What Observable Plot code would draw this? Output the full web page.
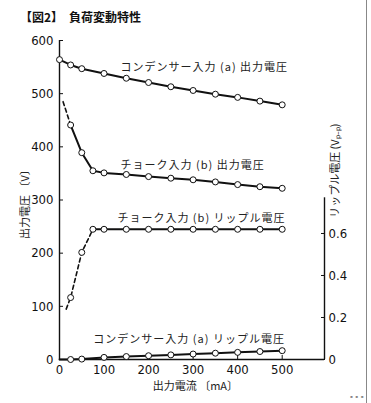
<!DOCTYPE html>
<html><head><meta charset="utf-8">
<script src="https://cdn.jsdelivr.net/npm/d3@7"></script>
<script src="https://cdn.jsdelivr.net/npm/@observablehq/plot@0.6"></script>
<style>
body{margin:0;background:#fff;}
#wrap{position:relative;width:371px;height:403px;overflow:hidden;background:#fff;}
#title{height:30px;box-sizing:border-box;padding:9px 0 0 20px;font:bold 12px/16px "Noto Sans CJK JP",sans-serif;color:#111;white-space:pre;}
.lbl text{letter-spacing:1px;}
#edge{position:absolute;left:366px;top:0;width:1px;height:403px;background:#888;}
#crumb{position:absolute;left:350px;top:393px;font:bold 7px "DejaVu Sans";color:#222;}
</style></head><body>
<div id="wrap"><div id="title">【図2】　負荷変動特性</div><div id="chart"></div><div id="edge"></div><div id="crumb">- - -</div></div>
<script>
// ---- data (x: output current mA, y: output voltage V / ripple Vp-p) ----
const condOutI  = [0,25,50,100,150,200,250,300,350,400,450,500];
const condOutV  = [564,554,547,538,529,521,513,506,499,493,486,479];

const chokeOutI = [8,25,50,75,100,150,200,250,300,350,400,450,500];
const chokeOutV = [485,441,389,355,351,348,344,341,338,334,329,325,322];
const chokeOutDashTo = 25;

const chokeRipI = [15,25,50,75,100,150,200,250,300,350,400,450,500];
const chokeRipV = [0.24,0.295,0.51,0.62,0.62,0.62,0.62,0.62,0.62,0.62,0.62,0.62,0.62];
const chokeRipDashTo = 75;

const condRipI  = [0,25,50,100,150,200,250,300,350,400,450,500];
const condRipV  = [0,0,0.002,0.01,0.014,0.018,0.022,0.026,0.03,0.034,0.038,0.042];

const xTicks = [0,100,200,300,400,500];
const yTicks = [0,100,200,300,400,500,600];
const rTicks = [0,0.2,0.4,0.6];
const rTop = 0.77;        // right axis extent (Vp-p)
const K = 395;            // V per Vp-p on the shared vertical scale
const xMax = 595;

const labelText = ["コンデンサー入力 (a) 出力電圧","チョーク入力 (b) 出力電圧","チョーク入力 (b) リップル電圧","コンデンサー入力 (a) リップル電圧"];
const labelI = [137,137,130,76];
const labelV = [550,365,265,37.6];

const xLabel = "出力電流 〔mA〕";
const yLabel = "出力電圧 〔V〕";
const rLabel = "リップル電圧 (Vₚ₋ₚ)";
// anchor points of the axis titles (data units)
const xLabelAt = {i: 305, v: 0};
const yLabelAt = {i: 0, v: 297};
const rLabelAt = {i: xMax, v: 355};

// ---- build tables ----
function series(I, V, scale, dashTo, firstMarked) {
  return I.map((i, k) => ({i, v: V[k] * scale, mark: firstMarked || k > 0, dashTo}));
}
const S = [
  series(condOutI, condOutV, 1, -1, true),
  series(chokeOutI, chokeOutV, 1, chokeOutDashTo, false),
  series(chokeRipI, chokeRipV, K, chokeRipDashTo, false),
  series(condRipI, condRipV, K, -1, false)
];
const solid = S.map(s => s.filter(d => d.i >= d.dashTo));
const dashed = S.map(s => s.filter(d => d.i <= d.dashTo)).filter(s => s.length > 1);
const dots = S.flat().filter(d => d.mark);
const labels = labelText.map((t, k) => ({t, i: labelI[k], v: labelV[k]}));

const narrow = "'Liberation Sans Narrow','DejaVu Sans Condensed',sans-serif";
const jp = "'Noto Sans CJK JP',sans-serif";
const ink = "#111";

const chart = Plot.plot({
  width: 371, height: 373,
  marginLeft: 59, marginRight: 47, marginTop: 10, marginBottom: 44,
  x: {domain: [0, xMax]},
  y: {domain: [0, 600]},
  style: {fontFamily: narrow, fontSize: "13px", color: ink, background: "transparent"},
  marks: [
    Plot.ruleY([0], {stroke: ink, strokeWidth: 1.4}),
    Plot.ruleX([0], {stroke: ink, strokeWidth: 1.4}),
    Plot.ruleX([xMax], {y1: 0, y2: rTop * K, stroke: ink, strokeWidth: 1.4}),
    Plot.axisY(yTicks, {anchor: "left", tickSize: -4, tickPadding: 10, label: null, fontSize: 13, fontFamily: narrow}),
    Plot.axisY(rTicks.map(r => r * K), {anchor: "right", tickSize: -4, tickPadding: 8, label: null, fontSize: 13, fontFamily: narrow,
      tickFormat: d => String(Math.round(d / K * 10) / 10)}),
    Plot.axisX(xTicks, {anchor: "bottom", tickSize: -4, tickPadding: 9, label: null, fontSize: 13, fontFamily: narrow}),
    ...dashed.map(s => Plot.line(s, {x: "i", y: "v", stroke: ink, strokeWidth: 1.6, strokeDasharray: "4,3"})),
    ...solid.map(s => Plot.line(s, {x: "i", y: "v", stroke: ink, strokeWidth: 2})),
    Plot.dot(dots, {x: "i", y: "v", r: 3, fill: "white", stroke: ink, strokeWidth: 1}),
    Plot.text(labels, {x: "i", y: "v", text: "t", textAnchor: "start", fontSize: 11, fontFamily: jp, fill: "#222", className: "lbl"}),
    Plot.text([yLabelAt], {x: "i", y: "v", text: () => yLabel, dx: -34, rotate: -90, fontSize: 11, fontFamily: jp, fill: "#222"}),
    Plot.text([rLabelAt], {x: "i", y: "v", text: () => rLabel, dx: 11, rotate: -90, fontSize: 11, fontFamily: jp, fill: "#222"}),
    Plot.text([xLabelAt], {x: "i", y: "v", text: () => xLabel, dy: 27, fontSize: 11, fontFamily: jp, fill: "#222"})
  ]
});
document.getElementById("chart").appendChild(chart);
</script>
</body></html>
